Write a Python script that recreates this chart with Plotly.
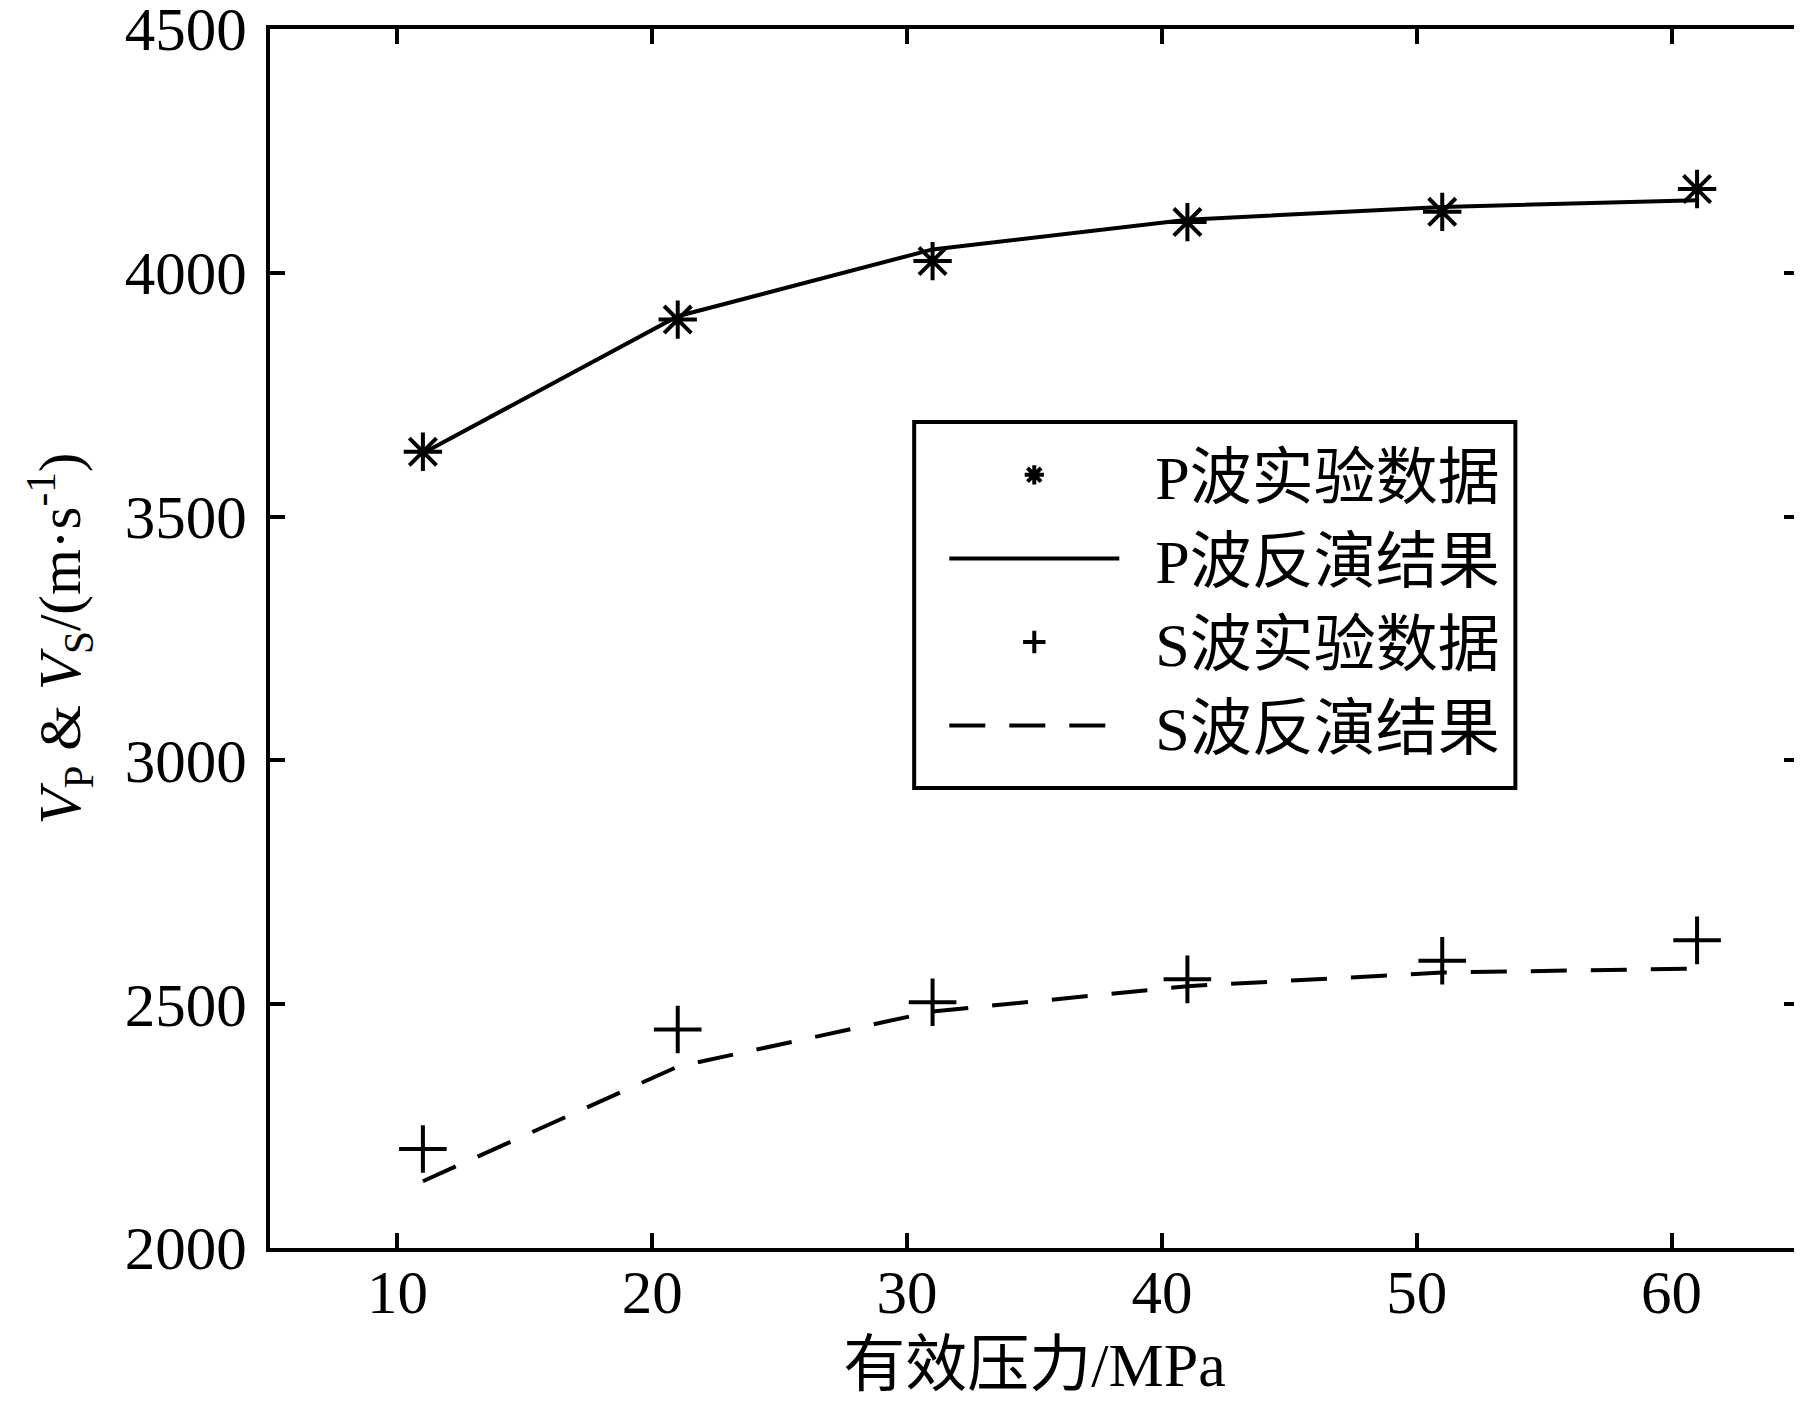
import plotly.graph_objects as go

pressure = [11, 21, 31, 41, 51, 61]
vp_exp = [3633, 3904, 4024, 4104, 4125, 4172]
vp_inv = [3630, 3911, 4048, 4109, 4135, 4149]
vs_exp = [2203, 2448, 2504, 2551, 2589, 2631]
vs_inv = [2137, 2372, 2485, 2537, 2565, 2573]

names = ["P波实验数据", "P波反演结果", "S波实验数据", "S波反演结果"]
x_ticks = [10, 20, 30, 40, 50, 60]
y_ticks = [2000, 2500, 3000, 3500, 4000, 4500]

FONT = "Liberation Serif, Times New Roman, Noto Sans CJK SC"
PAD = "\u00a0\u00a0"

fig = go.Figure()
fig.add_trace(go.Scatter(x=pressure, y=vp_exp, mode="markers", name=PAD + names[0],
                         marker=dict(symbol="asterisk-open", size=32, color="black",
                                     line=dict(width=4, color="black"))))
fig.add_trace(go.Scatter(x=pressure, y=vp_inv, mode="lines", name=PAD + names[1],
                         line=dict(color="black", width=4)))
fig.add_trace(go.Scatter(x=pressure, y=vs_exp, mode="markers", name=PAD + names[2],
                         marker=dict(symbol="cross-thin-open", size=34, color="black",
                                     line=dict(width=4, color="black"))))
fig.add_trace(go.Scatter(x=pressure, y=vs_inv, mode="lines", name=PAD + names[3],
                         line=dict(color="black", width=4, dash="36px,24px")))

axis_common = dict(showline=True, linecolor="black", linewidth=4, mirror="ticks",
                   ticks="inside", ticklen=15, tickwidth=4, tickcolor="black",
                   showgrid=False, zeroline=False, ticklabeloverflow="allow",
                   automargin=False,
                   tickfont=dict(family=FONT, size=61, color="black"))

fig.update_layout(
    width=1802, height=1408,
    paper_bgcolor="white", plot_bgcolor="white",
    margin=dict(l=262, r=11, t=21, b=168, autoexpand=False),
    font=dict(family=FONT, color="black"),
    xaxis=dict(range=[5, 65], tickvals=x_ticks, ticktext=[str(v) for v in x_ticks],
               ticklabelstandoff=-12,
               title=dict(text="有效压力/MPa", font=dict(family=FONT, size=62, color="black"),
                          standoff=18),
               **axis_common),
    yaxis=dict(range=[2000, 4500.01], tickvals=y_ticks, ticktext=[str(v) for v in y_ticks],
               ticklabelstandoff=7,
               title=dict(text="<i>V</i><sub>P</sub> & <i>V</i><sub>S</sub>/(m·s<sup>-1</sup>)",
                          font=dict(family=FONT, size=59, color="black"), standoff=26),
               **axis_common),
    legend=dict(x=0.441, y=0.6727, xanchor="left", yanchor="top",
                borderwidth=0, bgcolor="rgba(0,0,0,0)",
                font=dict(family=FONT, size=62, color="black"),
                itemwidth=170, tracegroupgap=0),
    shapes=[dict(type="rect", xref="paper", yref="paper",
                 x0=0.4213, x1=0.8145, y0=0.3774, y1=0.6776,
                 line=dict(color="black", width=4), fillcolor="rgba(0,0,0,0)",
                 layer="above")],
    showlegend=True,
)

fig.write_html("out.html")
